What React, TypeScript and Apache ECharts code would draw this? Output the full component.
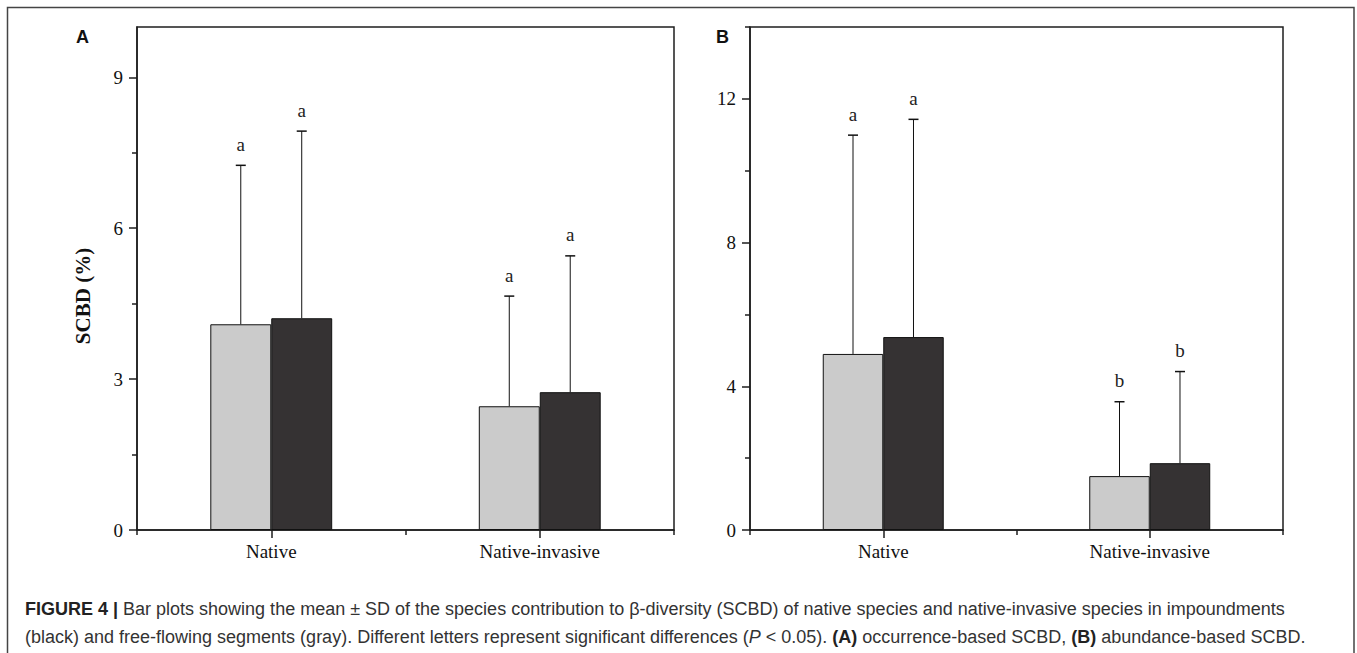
import React, { useEffect, useRef } from "react";
import * as echarts from "echarts";

// ---- data ----
const categories = ["Native", "Native-invasive"];
// Panel A (occurrence-based SCBD)
const freeFlowingA = [4.09, 2.46];
const freeFlowingSdA = [3.16, 2.19];
const impoundA = [4.21, 2.74];
const impoundSdA = [3.72, 2.71];
const lettersFreeA = ["a", "a"];
const lettersImpA = ["a", "a"];
// Panel B (abundance-based SCBD)
const freeFlowingB = [4.9, 1.5];
const freeFlowingSdB = [6.09, 2.07];
const impoundB = [5.37, 1.86];
const impoundSdB = [6.06, 2.55];
const lettersFreeB = ["a", "b"];
const lettersImpB = ["a", "b"];
// axes
const yMaxA = 10;
const yTicksA = [0, 3, 6, 9];
const yMinorA = [1.5, 4.5, 7.5];
const yMaxB = 14;
const yTicksB = [0, 4, 8, 12];
const yMinorB = [2, 6, 10, 14];

const captionLine1 =
  "{b|FIGURE 4 |} Bar plots showing the mean \u00b1 SD of the species contribution to \u03b2-diversity (SCBD) of native species and native-invasive species in impoundments";
const captionLine2 =
  "(black) and free-flowing segments (gray). Different letters represent significant differences ({i|P} < 0.05). {b|(A)} occurrence-based SCBD, {b|(B)} abundance-based SCBD.";

const SERIF = "'Liberation Serif', 'Times New Roman', serif";
const SANS = "'Liberation Sans', Arial, sans-serif";
const BAR_FRAC = 0.227;
const GRAY = "#cbcbcb";
const DARK = "#353233";
const AXIS = "#1e1e1e";
const CAP_FS = 18;

function errSeries(means: number[], sds: number[], letters: string[], side: number, axisIdx: number, yIdx: number) {
  return {
    type: "custom",
    xAxisIndex: axisIdx,
    yAxisIndex: yIdx,
    z: 5,
    data: means.map((m, i) => [i, m, m + sds[i]]),
    renderItem: (params: any, api: any) => {
      const i = api.value(0);
      const band = api.size([1, 0])[0];
      const bw = band * BAR_FRAC;
      const p0 = api.coord([i, api.value(1)]);
      const p1 = api.coord([i, api.value(2)]);
      const x = p0[0] + (side * bw) / 2;
      return {
        type: "group",
        children: [
          { type: "line", shape: { x1: x, y1: p0[1], x2: x, y2: p1[1] }, style: { stroke: "#111", lineWidth: 1 } },
          { type: "line", shape: { x1: x - 5, y1: p1[1], x2: x + 5, y2: p1[1] }, style: { stroke: "#111", lineWidth: 1.5 } },
          {
            type: "text",
            x: x,
            y: p1[1] - 21,
            style: {
              text: letters[params.dataIndex],
              textAlign: "center",
              textVerticalAlign: "middle",
              align: "center",
              verticalAlign: "middle",
              fontFamily: SERIF,
              fontSize: 19,
              fill: "#222",
            },
          },
        ],
      };
    },
  };
}

function mainX(gridIndex: number) {
  return {
    type: "category",
    gridIndex,
    data: categories,
    axisLine: { show: true, lineStyle: { color: AXIS, width: 1.5 } },
    axisTick: { show: true, alignWithLabel: true, length: 8, lineStyle: { color: AXIS, width: 1.5 } },
    axisLabel: { color: "#111", fontFamily: SERIF, fontSize: 19, margin: 12 },
    splitLine: { show: false },
  };
}
function boundaryX(gridIndex: number) {
  return {
    type: "category",
    gridIndex,
    position: "bottom",
    data: categories,
    axisLine: { show: false },
    axisTick: { show: true, alignWithLabel: false, length: 5, lineStyle: { color: AXIS, width: 1.5 } },
    axisLabel: { show: false },
    splitLine: { show: false },
  };
}
function mainY(gridIndex: number, max: number, ticks: number[]) {
  return {
    type: "value",
    gridIndex,
    position: "left",
    min: 0,
    max,
    interval: ticks[1] - ticks[0],
    axisLine: { show: true, lineStyle: { color: AXIS, width: 1.5 } },
    axisTick: { show: true, length: 8, customValues: ticks, lineStyle: { color: AXIS, width: 1.5 } },
    axisLabel: { customValues: ticks, color: "#111", fontFamily: SERIF, fontSize: 19, margin: 14 },
    splitLine: { show: false },
  };
}
function minorY(gridIndex: number, max: number, ticks: number[]) {
  return {
    type: "value",
    gridIndex,
    position: "left",
    offset: 0,
    min: 0,
    max,
    interval: ticks[1] - ticks[0],
    axisLine: { show: false },
    axisTick: { show: true, length: 5, customValues: ticks, lineStyle: { color: AXIS, width: 1.5 } },
    axisLabel: { show: false },
    splitLine: { show: false },
  };
}

export default function App() {
  const ref = useRef<HTMLDivElement>(null);
  useEffect(() => {
    if (!ref.current) return;
    const chart = echarts.init(ref.current, undefined, { renderer: "svg" });
    const richStyles = {
      b: { fontFamily: SANS, fontSize: CAP_FS, fontWeight: "bold", fill: "#222" },
      i: { fontFamily: SANS, fontSize: CAP_FS, fontStyle: "italic", fill: "#333" },
    };
    const option: any = {
      animation: false,
      backgroundColor: "#ffffff",
      grid: [
        { left: 137, top: 27, width: 537, height: 503, show: true, borderColor: AXIS, borderWidth: 1.5 },
        { left: 750, top: 27, width: 533, height: 503, show: true, borderColor: AXIS, borderWidth: 1.5 },
      ],
      xAxis: [mainX(0), boundaryX(0), mainX(1), boundaryX(1)],
      yAxis: [mainY(0, yMaxA, yTicksA), minorY(0, yMaxA, yMinorA), mainY(1, yMaxB, yTicksB), minorY(1, yMaxB, yMinorB)],
      series: [
        { type: "bar", xAxisIndex: 0, yAxisIndex: 0, data: freeFlowingA, barWidth: BAR_FRAC * 100 + "%", barGap: "0%", itemStyle: { color: GRAY, borderColor: "#111", borderWidth: 1 } },
        { type: "bar", xAxisIndex: 0, yAxisIndex: 0, data: impoundA, barWidth: BAR_FRAC * 100 + "%", barGap: "0%", itemStyle: { color: DARK, borderColor: "#111", borderWidth: 1 } },
        { type: "bar", xAxisIndex: 2, yAxisIndex: 2, data: freeFlowingB, barWidth: BAR_FRAC * 100 + "%", barGap: "0%", itemStyle: { color: GRAY, borderColor: "#111", borderWidth: 1 } },
        { type: "bar", xAxisIndex: 2, yAxisIndex: 2, data: impoundB, barWidth: BAR_FRAC * 100 + "%", barGap: "0%", itemStyle: { color: DARK, borderColor: "#111", borderWidth: 1 } },
        errSeries(freeFlowingA, freeFlowingSdA, lettersFreeA, -1, 0, 0),
        errSeries(impoundA, impoundSdA, lettersImpA, 1, 0, 0),
        errSeries(freeFlowingB, freeFlowingSdB, lettersFreeB, -1, 2, 2),
        errSeries(impoundB, impoundSdB, lettersImpB, 1, 2, 2),
      ],
      graphic: [
        {
          type: "rect",
          shape: { x: 7.5, y: 7.5, width: 1346.5, height: 700 },
          style: { fill: "none", stroke: "#444", lineWidth: 1.5 },
          silent: true,
        },
        {
          type: "text",
          x: 76,
          y: 36.5,
          style: { text: "A", fontFamily: SANS, fontWeight: "bold", fontSize: 18, fill: "#111", textVerticalAlign: "middle", verticalAlign: "middle" },
        },
        {
          type: "text",
          x: 716,
          y: 36.5,
          style: { text: "B", fontFamily: SANS, fontWeight: "bold", fontSize: 18, fill: "#111", textVerticalAlign: "middle", verticalAlign: "middle" },
        },
        {
          type: "text",
          x: 83,
          y: 296,
          rotation: Math.PI / 2,
          style: {
            text: "SCBD (%)",
            fontFamily: SERIF,
            fontWeight: "bold",
            fontSize: 21,
            fill: "#111",
            textAlign: "center",
            textVerticalAlign: "middle",
            align: "center",
            verticalAlign: "middle",
          },
        },
        {
          type: "text",
          x: 25,
          y: 609,
          style: {
            text: captionLine1,
            fontFamily: SANS,
            fontSize: CAP_FS,
            fill: "#333",
            textVerticalAlign: "middle",
            verticalAlign: "middle",
            rich: richStyles,
          },
        },
        {
          type: "text",
          x: 25,
          y: 637,
          style: {
            text: captionLine2,
            fontFamily: SANS,
            fontSize: CAP_FS,
            fill: "#333",
            textVerticalAlign: "middle",
            verticalAlign: "middle",
            rich: richStyles,
          },
        },
      ],
    };
    chart.setOption(option);
    return () => chart.dispose();
  }, []);
  return (
    <div
      ref={ref}
      style={{ position: "fixed", left: 0, top: 0, width: 1357, height: 653, background: "#fff" }}
    />
  );
}
